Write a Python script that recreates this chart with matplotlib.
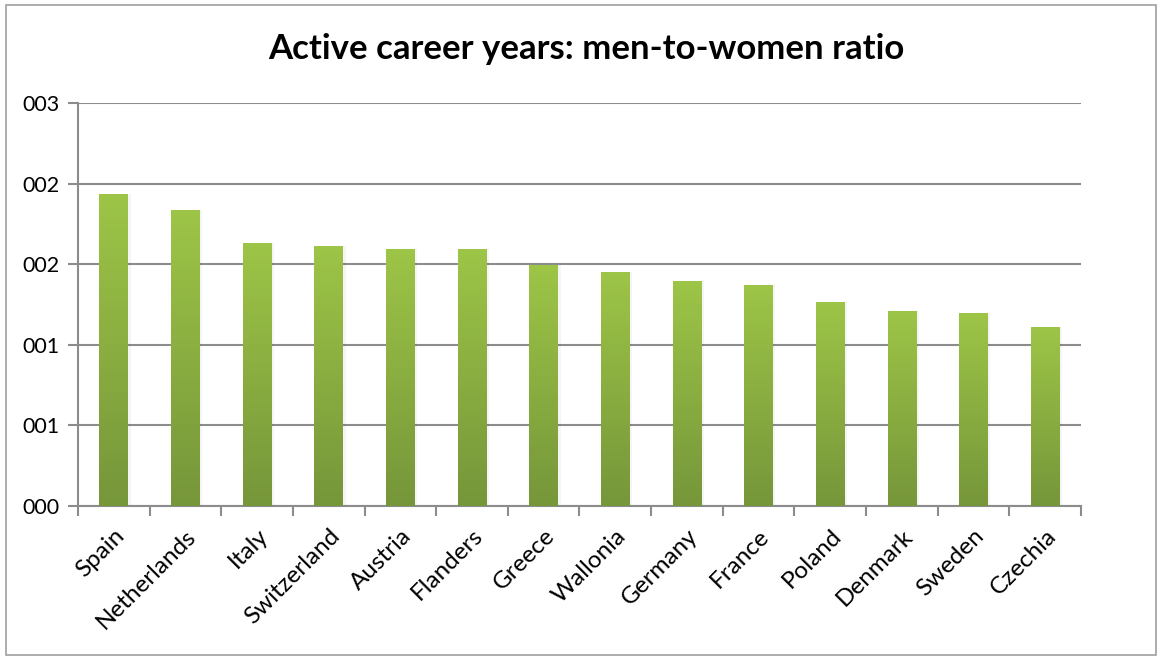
import numpy as np
import matplotlib.pyplot as plt
from matplotlib.colors import LinearSegmentedColormap
from matplotlib.patches import Rectangle

plt.rcParams['font.family'] = ['Lato', 'DejaVu Sans']

countries = ['Spain', 'Netherlands', 'Italy', 'Switzerland', 'Austria', 'Flanders',
             'Greece', 'Wallonia', 'Germany', 'France', 'Poland', 'Denmark',
             'Sweden', 'Czechia']
ratio = [1.937, 1.838, 1.633, 1.614, 1.596, 1.596, 1.496, 1.453, 1.397,
         1.372, 1.266, 1.210, 1.198, 1.111]
yticks = [0, 0.5, 1.0, 1.5, 2.0, 2.5]
ytick_labels = ['000', '001', '001', '002', '002', '003']

grid_col = '#8c8c8c'
green = LinearSegmentedColormap.from_list('g', ['#76963a', '#9dc547'])

fig = plt.figure(figsize=(11.62, 6.57), dpi=100)
ax = fig.add_axes([0.0671, 0.2303, 0.8632, 0.6122])

x = np.arange(len(countries))
bars = ax.bar(x, ratio, width=0.4, color='none', zorder=3)

# vertical gradient inside each bar
grad = np.linspace(0, 1, 256).reshape(-1, 1)
for b in bars:
    x0, w, h = b.get_x(), b.get_width(), b.get_height()
    # soft shadow on the right
    ax.add_patch(Rectangle((x0 + w, 0), 0.035, h, color='#000000', alpha=0.04,
                           lw=0, zorder=2))
    im = ax.imshow(grad, cmap=green, aspect='auto', origin='lower',
                   extent=(x0, x0 + w, 0, h), zorder=3)
    im.set_clip_path(b)

ax.set_xlim(-0.5, len(countries) - 0.5)
ax.set_ylim(0, 2.5)

ax.set_yticks(yticks)
ax.set_yticklabels(ytick_labels, fontsize=15.5)
ax.yaxis.grid(True, color=grid_col, lw=1.5, zorder=0)
ax.set_axisbelow(True)

ax.set_xticks(x)
ax.set_xticklabels(countries, rotation=45, ha='right', rotation_mode='anchor',
                   fontsize=17.5)
ax.set_xticks(np.arange(len(countries) + 1) - 0.5, minor=True)
ax.tick_params(axis='x', which='major', length=0, pad=14)
ax.tick_params(axis='x', which='minor', length=7, width=1.5, color=grid_col)
ax.tick_params(axis='y', length=7, width=1.5, color=grid_col, pad=6)

for s in ['top', 'right']:
    ax.spines[s].set_visible(False)
for s in ['left', 'bottom']:
    ax.spines[s].set_color(grid_col)
    ax.spines[s].set_linewidth(1.5)

fig.text(0.505, 0.926, 'Active career years: men-to-women ratio',
         ha='center', va='center', fontsize=25, fontweight='bold')

# chart area border
fig.add_artist(Rectangle((0.005, 0.003), 0.99, 0.99, transform=fig.transFigure,
                         fill=False, ec='#a0a0a0', lw=1.2))

fig.savefig('out.png', dpi=100)
